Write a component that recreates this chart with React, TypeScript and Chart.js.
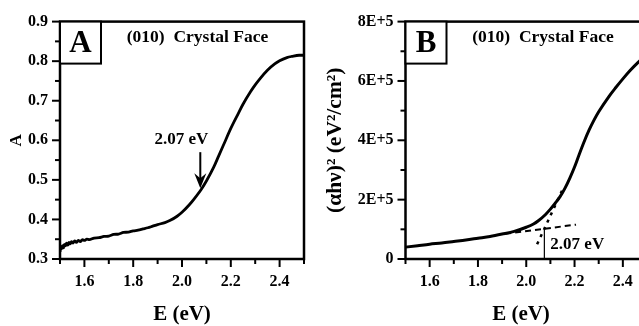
import React, { useEffect, useRef } from 'react';
import { Chart, registerables } from 'chart.js';
Chart.register(...registerables);

const FONT = "'Liberation Serif', 'Times New Roman', Times, serif";

// Panel A: absorbance vs photon energy
const energyA = [
  1.5, 1.503, 1.506, 1.51, 1.514, 1.518, 1.522, 1.527, 1.532, 1.537, 1.542, 1.547, 1.553, 1.56, 1.567,
  1.575, 1.583, 1.592, 1.6, 1.61, 1.62, 1.64, 1.66, 1.68, 1.7, 1.72, 1.74, 1.76, 1.78, 1.8, 1.82, 1.84,
  1.86, 1.88, 1.9, 1.93, 1.95, 1.98, 2.0, 2.03, 2.05, 2.08, 2.1, 2.13, 2.15, 2.17, 2.2, 2.23, 2.25, 2.28,
  2.3, 2.32, 2.35, 2.38, 2.4, 2.43, 2.45, 2.48, 2.5,
];
const absorbA = [
  0.318, 0.332, 0.326, 0.334, 0.328, 0.337, 0.333, 0.340, 0.335, 0.342, 0.338, 0.344, 0.340, 0.346, 0.342,
  0.347, 0.344, 0.349, 0.347, 0.350, 0.349, 0.353, 0.354, 0.357, 0.358, 0.362, 0.363, 0.367, 0.368, 0.371,
  0.373, 0.376, 0.379, 0.383, 0.387, 0.392, 0.397, 0.408, 0.418, 0.437, 0.452, 0.477, 0.497, 0.532, 0.56,
  0.588, 0.630, 0.667, 0.691, 0.722, 0.740, 0.756, 0.777, 0.793, 0.801, 0.809, 0.812, 0.815, 0.815,
];

// Panel B: Tauc plot (alpha h nu)^2 vs photon energy
const energyB = [
  1.5, 1.55, 1.6, 1.65, 1.7, 1.75, 1.8, 1.85, 1.9, 1.95, 2.0, 2.03, 2.05, 2.08, 2.1, 2.12, 2.14, 2.16,
  2.18, 2.2, 2.22, 2.24, 2.26, 2.28, 2.3, 2.34, 2.37, 2.4, 2.43, 2.46, 2.48,
];
const taucB = [
  0.40e5, 0.45e5, 0.50e5, 0.54e5, 0.59e5, 0.64e5, 0.70e5, 0.76e5, 0.84e5, 0.93e5, 1.07e5, 1.18e5, 1.29e5,
  1.50e5, 1.68e5, 1.88e5, 2.10e5, 2.38e5, 2.72e5, 3.10e5, 3.54e5, 3.96e5, 4.34e5, 4.67e5, 4.96e5, 5.45e5,
  5.77e5, 6.07e5, 6.35e5, 6.60e5, 6.75e5,
];

// Extrapolation lines in panel B
const baseFitE = [1.913, 2.206];
const baseFitV = [0.85e5, 1.157e5];
const steepFitE = [2.045, 2.148];
const steepFitV = [0.5e5, 2.3e5];
const gapE = 2.075;
const gapLineV = [0, 1.0e5];

// Arrow in panel A
const arrowE = 2.075;
const arrowTopA = 0.57;
const arrowTipA = 0.479;

const gapLabel = '2.07 eV';
const faceTitle = '(010)  Crystal Face';

const xLabelValues = ['1.6', '1.8', '2.0', '2.2', '2.4'];
const yLabelValuesA = ['0.3', '0.4', '0.5', '0.6', '0.7', '0.8', '0.9'];
const yLabelValuesB = ['0', '2E+5', '4E+5', '6E+5', '8E+5'];

const toXY = (xs: number[], ys: number[]) => xs.map((x, i) => ({ x, y: ys[i] }));

const tickFont = { family: FONT, size: 16, weight: 'bold' as const };
const noGrid = { display: false, drawTicks: false, tickLength: 0 };

function framePlugin(letter: string, extra: (chart: any) => void) {
  return {
    id: 'frame' + letter,
    afterDraw(chart: any) {
      const { ctx, chartArea: a, scales } = chart;
      ctx.save();
      ctx.strokeStyle = '#000';
      ctx.fillStyle = '#000';
      // ticks
      ctx.lineWidth = 2;
      const xs = scales.x;
      const ys = scales.y;
      xs.ticks.forEach((t: any) => {
        const px = xs.getPixelForValue(t.value);
        if (px < a.left - 1 || px > a.right + 1) return;
        const len = t.label !== '' ? 8 : 5;
        ctx.beginPath();
        ctx.moveTo(px, a.bottom);
        ctx.lineTo(px, a.bottom + len);
        ctx.stroke();
      });
      ys.ticks.forEach((t: any) => {
        const py = ys.getPixelForValue(t.value);
        const len = t.label !== '' ? 8 : 5;
        ctx.beginPath();
        ctx.moveTo(a.left, py);
        ctx.lineTo(a.left - len, py);
        ctx.stroke();
      });
      // frame
      ctx.lineWidth = 2.5;
      ctx.strokeRect(a.left, a.top, a.right - a.left, a.bottom - a.top);
      // letter box
      ctx.lineWidth = 2;
      ctx.fillStyle = '#fff';
      ctx.fillRect(a.left, a.top, 41, 42);
      ctx.strokeRect(a.left, a.top, 41, 42);
      ctx.fillStyle = '#000';
      ctx.font = `bold 31px ${FONT}`;
      ctx.textAlign = 'center';
      ctx.textBaseline = 'middle';
      ctx.fillText(letter, a.left + 20.5, a.top + 22);
      ctx.font = `bold 17.5px ${FONT}`;
      ctx.fillText(faceTitle, a.left + 137.5, a.top + 16);
      extra(chart);
      ctx.restore();
    },
  };
}

function drawArrowA(chart: any) {
  const { ctx, scales } = chart;
  const x = scales.x.getPixelForValue(arrowE);
  const yTop = scales.y.getPixelForValue(arrowTopA);
  const yTip = scales.y.getPixelForValue(arrowTipA);
  ctx.strokeStyle = '#000';
  ctx.fillStyle = '#000';
  ctx.lineWidth = 2;
  ctx.beginPath();
  ctx.moveTo(x, yTop);
  ctx.lineTo(x, yTip - 8);
  ctx.stroke();
  ctx.beginPath();
  ctx.moveTo(x, yTip);
  ctx.lineTo(x - 6, yTip - 15);
  ctx.lineTo(x, yTip - 10);
  ctx.lineTo(x + 6, yTip - 15);
  ctx.closePath();
  ctx.fill();
  ctx.font = `bold 17px ${FONT}`;
  ctx.textAlign = 'center';
  ctx.textBaseline = 'middle';
  ctx.fillText(gapLabel, x - 19, yTop - 13);
}

function drawLabelB(chart: any) {
  const { ctx, scales } = chart;
  const x = scales.x.getPixelForValue(gapE);
  const y0 = scales.y.getPixelForValue(gapLineV[0]);
  const y1 = scales.y.getPixelForValue(gapLineV[1]);
  ctx.fillStyle = '#000';
  ctx.font = `bold 17px ${FONT}`;
  ctx.textAlign = 'left';
  ctx.textBaseline = 'middle';
  ctx.fillText(gapLabel, x + 6, (y0 + y1) / 2);
}

function xScale(title: string) {
  return {
    type: 'linear' as const,
    min: 1.5,
    max: 2.5,
    grid: noGrid,
    border: { display: false },
    ticks: {
      stepSize: 0.1,
      autoSkip: false,
      maxRotation: 0,
      padding: 13,
      color: '#000',
      font: tickFont,
      callback: (v: number) => {
        const s = v.toFixed(1);
        return xLabelValues.includes(s) ? s : '';
      },
    },
    title: {
      display: true,
      text: title,
      color: '#000',
      font: { family: FONT, size: 21, weight: 'bold' as const, lineHeight: 1 },
      padding: { top: 0, bottom: 1 },
    },
    afterFit: (s: any) => {
      s.height = 67;
    },
  };
}

export default function App() {
  const refA = useRef<HTMLCanvasElement>(null);
  const refB = useRef<HTMLCanvasElement>(null);

  useEffect(() => {
    const chartA = new Chart(refA.current as HTMLCanvasElement, {
      type: 'line',
      data: {
        datasets: [
          {
            data: toXY(energyA, absorbA),
            borderColor: '#000',
            borderWidth: 2.8,
            pointRadius: 0,
            cubicInterpolationMode: 'monotone',
          },
        ],
      },
      options: {
        responsive: false,
        animation: false,
        devicePixelRatio: 1,
        layout: { padding: { top: 15, right: 16, left: 0, bottom: 0 } },
        plugins: { legend: { display: false }, tooltip: { enabled: false } },
        scales: {
          x: xScale('E (eV)'),
          y: {
            type: 'linear',
            min: 0.3,
            max: 0.9,
            grid: noGrid,
            border: { display: false },
            ticks: {
              stepSize: 0.05,
              autoSkip: false,
              padding: 12,
              color: '#000',
              font: tickFont,
              callback: (v: number) => {
                const s = (Math.round(v * 100) / 100).toFixed(2);
                const t = s.endsWith('0') ? s.slice(0, -1) : '';
                return yLabelValuesA.includes(t) ? t : '';
              },
            },
            title: {
              display: true,
              text: 'A',
              color: '#000',
              font: { family: FONT, size: 17, weight: 'bold', lineHeight: 1 },
              padding: { top: 8, bottom: 0 },
            },
            afterFit: (s: any) => {
              s.width = 60;
            },
          },
        },
      },
      plugins: [framePlugin('A', drawArrowA)],
    } as any);

    const chartB = new Chart(refB.current as HTMLCanvasElement, {
      type: 'line',
      data: {
        datasets: [
          {
            data: toXY(energyB, taucB),
            borderColor: '#000',
            borderWidth: 3,
            pointRadius: 0,
            cubicInterpolationMode: 'monotone',
          },
          {
            data: toXY(baseFitE, baseFitV),
            borderColor: '#000',
            borderWidth: 2,
            borderDash: [6, 4],
            pointRadius: 0,
          },
          {
            data: toXY(steepFitE, steepFitV),
            borderColor: '#000',
            borderWidth: 2.5,
            borderDash: [3, 5],
            pointRadius: 0,
          },
          {
            data: toXY([gapE, gapE], gapLineV),
            borderColor: '#000',
            borderWidth: 1.2,
            pointRadius: 0,
          },
        ],
      },
      options: {
        responsive: false,
        animation: false,
        devicePixelRatio: 1,
        layout: { padding: { top: 15, right: 12, left: 0, bottom: 0 } },
        plugins: { legend: { display: false }, tooltip: { enabled: false } },
        scales: {
          x: xScale('E (eV)\u00A0\u00A0'),
          y: {
            type: 'linear',
            min: 0,
            max: 8e5,
            grid: noGrid,
            border: { display: false },
            ticks: {
              stepSize: 1e5,
              autoSkip: false,
              padding: 12,
              color: '#000',
              font: tickFont,
              callback: (v: number) => {
                const k = Math.round(v / 1e5);
                const s = k === 0 ? '0' : `${k}E+5`;
                return yLabelValuesB.includes(s) ? s : '';
              },
            },
            title: {
              display: true,
              text: '(\u03B1h\u03BD)\u00B2 (eV\u00B2/cm\u00B2)',
              color: '#000',
              font: { family: FONT, size: 21.5, weight: 'bold', lineHeight: 1 },
              padding: { top: 5, bottom: 0 },
            },
            afterFit: (s: any) => {
              s.width = 85.5;
            },
          },
        },
      },
      plugins: [framePlugin('B', drawLabelB)],
    } as any);

    return () => {
      chartA.destroy();
      chartB.destroy();
    };
  }, []);

  return (
    <div
      style={{
        position: 'fixed',
        left: 0,
        top: 0,
        width: 639,
        height: 326,
        overflow: 'hidden',
        background: '#fff',
      }}
    >
      <canvas
        ref={refA}
        width={320}
        height={326}
        style={{ position: 'absolute', left: 0, top: 0, width: 320, height: 326 }}
      />
      <canvas
        ref={refB}
        width={340}
        height={326}
        style={{ position: 'absolute', left: 320, top: 0, width: 340, height: 326 }}
      />
    </div>
  );
}
